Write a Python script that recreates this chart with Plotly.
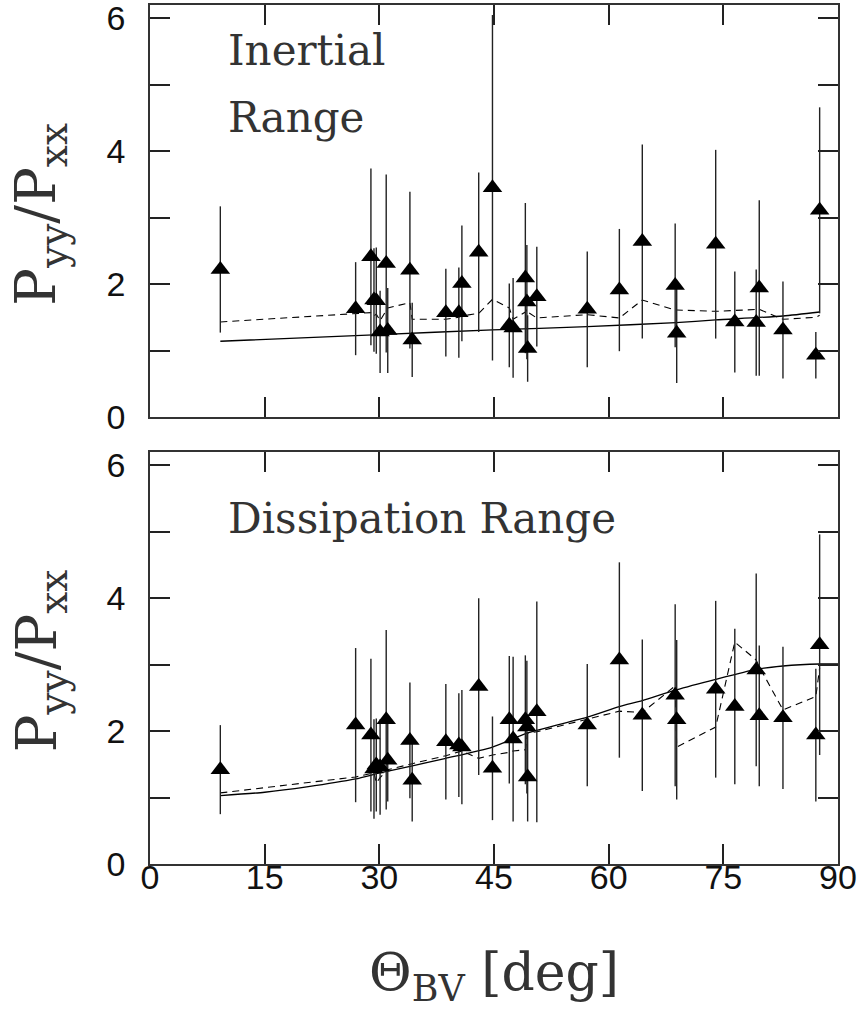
import plotly.graph_objects as go

# ---------------- data ----------------
theta = [9.2, 26.9, 28.9, 29.3, 29.6, 30.1, 30.9, 31.1, 34.0, 34.3, 38.7,
         40.4, 40.8, 43.0, 44.8, 47.0, 47.5, 49.1, 49.3, 49.4, 50.6, 57.2,
         61.4, 64.4, 68.7, 68.9, 74.0, 76.5, 79.3, 79.7, 82.8, 87.1, 87.6]

# Inertial range
inert_ratio = [2.22, 1.63, 2.41, 1.76, 1.75, 1.28, 2.31, 1.30, 2.21, 1.16, 1.57,
               1.57, 2.01, 2.48, 3.45, 1.38, 1.34, 2.09, 1.73, 1.03, 1.81, 1.62,
               1.91, 2.64, 1.98, 1.26, 2.60, 1.43, 1.42, 1.94, 1.31, 0.93, 3.11]
inert_err = [0.95, 0.70, 1.33, 0.78, 0.80, 0.62, 1.34, 0.64, 1.18, 0.56, 0.66,
             0.68, 0.87, 1.20, 2.60, 0.63, 0.75, 1.13, 0.86, 0.50, 0.75, 0.87,
             0.92, 1.46, 0.93, 0.75, 1.42, 0.76, 0.80, 1.32, 0.73, 0.35, 1.55]
inert_model = [1.43, 1.56, 1.57, 1.52, 1.55, 1.45, 1.62, 1.64, 1.72, 1.47, 1.47,
               1.50, 1.52, 1.56, 1.77, 1.64, 1.47, 1.58, 1.62, 1.58, 1.49, 1.54,
               1.49, 1.76, 1.61, 1.61, 1.59, 1.60, 1.61, 1.62, 1.47, 1.50, 1.53]
inert_fit_theta = [9.2, 30.0, 44.8, 57.2, 68.8, 74.0, 82.8, 87.6]
inert_fit = [1.14, 1.24, 1.31, 1.36, 1.42, 1.46, 1.52, 1.58]

# Dissipation range
diss_ratio = [1.42, 2.09, 1.94, 1.43, 1.49, 1.46, 2.17, 1.56, 1.86, 1.26, 1.84,
              1.79, 1.76, 2.67, 1.44, 2.17, 1.88, 2.17, 2.06, 1.31, 2.29, 2.09,
              3.07, 2.24, 2.54, 2.17, 2.63, 2.37, 2.92, 2.23, 2.20, 1.94, 3.30]
diss_err = [0.67, 1.16, 1.15, 0.75, 0.70, 0.72, 1.35, 0.62, 0.87, 0.62, 0.87,
            0.78, 0.86, 1.33, 0.78, 0.96, 1.24, 0.97, 1.00, 0.67, 1.66, 0.92,
            1.47, 1.14, 1.37, 1.20, 1.33, 1.17, 1.45, 1.06, 1.07, 1.00, 1.66]
diss_model = [1.07, 1.31, 1.36, 1.37, 1.22, 1.30, 1.40, 1.42, 1.50, 1.51, 1.63,
              1.68, 1.70, 1.59, 1.64, 1.68, 1.70, 1.72, 1.94, 1.97, 1.99, 2.18,
              2.30, 2.28, 2.68, 1.76, 2.06, 3.34, 3.07, 2.97, 2.32, 2.52, 2.95]
diss_fit_theta = [9.2, 15.0, 20.5, 26.9, 30.1, 38.7, 44.8, 49.3, 57.2, 61.4,
                  64.4, 68.8, 74.0, 79.3, 82.8, 87.6, 90.0]
diss_fit = [1.03, 1.08, 1.16, 1.28, 1.37, 1.59, 1.76, 1.97, 2.21, 2.37,
            2.46, 2.62, 2.78, 2.93, 2.98, 3.01, 3.01]

x_ticks = [0, 15, 30, 45, 60, 75, 90]
y_major = [0, 2, 4, 6]
y_minor = [1, 3, 5]

# ---------------- figure ----------------
fig = go.Figure()

SERIF = "DejaVu Serif, Liberation Serif, serif"
SANS = "Liberation Sans Narrow, Liberation Sans, Arial, sans-serif"


def add_panel(xa, ya, ratio, err, model, fit_t, fit_v):
    fig.add_trace(go.Scatter(x=fit_t, y=fit_v, mode="lines", xaxis=xa, yaxis=ya,
                             line=dict(color="black", width=1.3, shape="spline", smoothing=0.6),
                             showlegend=False, hoverinfo="skip"))
    fig.add_trace(go.Scatter(x=theta, y=model, mode="lines", xaxis=xa, yaxis=ya,
                             line=dict(color="black", width=1.1, dash="7px,5px"),
                             showlegend=False, hoverinfo="skip"))
    fig.add_trace(go.Scatter(x=theta, y=ratio, mode="markers", xaxis=xa, yaxis=ya,
                             marker=dict(symbol="triangle-up", size=17, color="black",
                                         line=dict(width=0)),
                             error_y=dict(type="data", array=err, visible=True,
                                          thickness=1.4, width=0, color="#222222"),
                             showlegend=False))


add_panel("x", "y", inert_ratio, inert_err, inert_model, inert_fit_theta, inert_fit)
add_panel("x2", "y2", diss_ratio, diss_err, diss_model, diss_fit_theta, diss_fit)

axis_common = dict(showline=True, linecolor="#333333", linewidth=1.5, mirror="ticks",
                   ticks="inside", ticklen=20, tickwidth=1.5, tickcolor="#222222",
                   showgrid=False, zeroline=False, automargin=False)
minor_ticks = dict(tickvals=y_minor, ticks="inside", ticklen=20, tickwidth=1.5,
                   tickcolor="#222222", showgrid=False)
tick_font = dict(family=SANS, size=34, color="#111111")

fig.update_layout(
    width=864, height=1018,
    margin=dict(l=150, r=26, t=5, b=154),
    plot_bgcolor="white", paper_bgcolor="white",
    xaxis=dict(domain=[0, 1], range=[0, 90], anchor="y", tickvals=x_ticks,
               showticklabels=False, **axis_common),
    yaxis=dict(domain=[0.5204, 1], range=[0, 6.2], anchor="x", tickvals=y_major,
               minor=minor_ticks, ticklabelstandoff=16, ticklabeloverflow="allow",
               tickfont=tick_font, **axis_common),
    xaxis2=dict(domain=[0, 1], range=[0, 90], anchor="y2", tickvals=x_ticks,
                ticklabelstandoff=-18, ticklabeloverflow="allow", tickfont=tick_font,
                **axis_common),
    yaxis2=dict(domain=[0, 0.4796], range=[0, 6.2], anchor="x2", tickvals=y_major,
                minor=minor_ticks, ticklabelstandoff=16, ticklabeloverflow="allow",
                tickfont=tick_font, **axis_common),
)

ann_font = dict(family=SERIF, size=42, color="#333333")
title_font = dict(family=SERIF, size=52, color="#333333")
ytitle_font = dict(family=SERIF, size=56, color="#333333")

fig.add_annotation(text="Inertial", x=10.0, y=5.52, xref="x", yref="y",
                   xanchor="left", yanchor="middle", showarrow=False, font=ann_font)
fig.add_annotation(text="Range", x=10.0, y=4.51, xref="x", yref="y",
                   xanchor="left", yanchor="middle", showarrow=False, font=ann_font)
fig.add_annotation(text="Dissipation Range", x=10.0, y=5.20, xref="x2", yref="y2",
                   xanchor="left", yanchor="middle", showarrow=False, font=ann_font)

ytitle = "P<sub>yy</sub>/P<sub>xx</sub>"
fig.add_annotation(text=ytitle, x=-0.16, y=0.757, xref="paper", yref="paper",
                   textangle=-90, xanchor="center", yanchor="middle",
                   showarrow=False, font=ytitle_font)
fig.add_annotation(text=ytitle, x=-0.16, y=0.237, xref="paper", yref="paper",
                   textangle=-90, xanchor="center", yanchor="middle",
                   showarrow=False, font=ytitle_font)
fig.add_annotation(text="Θ<sub>BV</sub> [deg]", x=0.5, y=-0.13, xref="paper", yref="paper",
                   xanchor="center", yanchor="middle", showarrow=False, font=title_font)

fig.write_html("out.html", config={"displayModeBar": False},
               post_script="document.body.style.margin='0';")
